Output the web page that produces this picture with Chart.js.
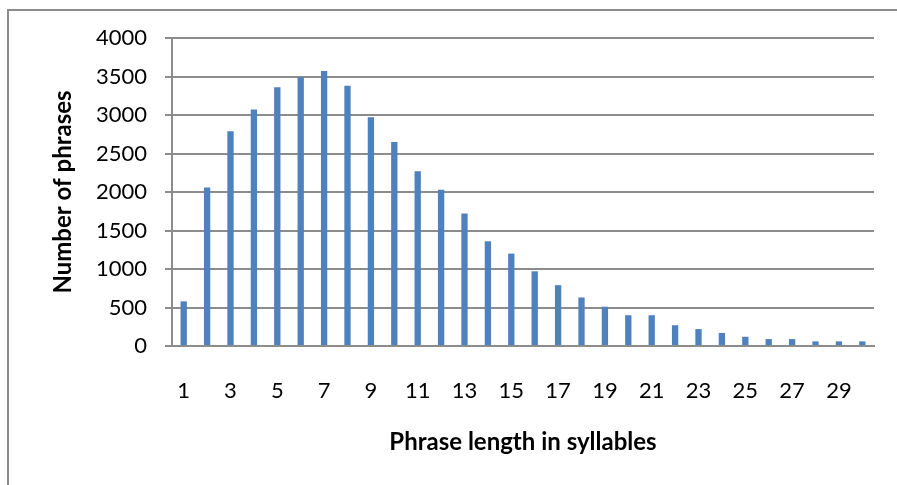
<!DOCTYPE html>
<html>
<head>
<meta charset="utf-8">
<script src="https://cdn.jsdelivr.net/npm/chart.js@4"></script>
<style>
body{margin:0;background:#fff;}
#frame{position:absolute;left:7px;top:9px;width:1000px;height:600px;border-top:2px solid #8c8c8c;border-left:2px solid #8c8c8c;}
#chart{position:absolute;left:0;top:0;}
</style>
</head>
<body>
<div id="frame"></div>
<canvas id="chart" width="897" height="485"></canvas>
<script>
const lengths = ["1","2","3","4","5","6","7","8","9","10","11","12","13","14","15","16","17","18","19","20","21","22","23","24","25","26","27","28","29","30"];

const counts = [580,2060,2790,3070,3360,3490,3570,3380,2970,2650,2270,2030,1720,1360,1200,970,790,630,510,400,400,270,220,170,120,90,90,60,60,60];

const yTicks = [0,500,1000,1500,2000,2500,3000,3500,4000];

const font = "Lato";

new Chart(

document.getElementById("chart"),

{

type:"bar",

data:{

labels:lengths,

datasets:[{

label:"Number of phrases",

data:counts,

backgroundColor:"#4f81bd",

barPercentage:0.27,

categoryPercentage:1

}]

},

options:{

responsive:false,

animation:false,

devicePixelRatio:1,

layout:{padding:{left:0,right:23,top:38,bottom:0}},

plugins:{legend:{display:false},tooltip:{enabled:false}},

scales:{

x:{

grid:{display:false},

border:{display:true,color:"#8c8c8c",width:2},

ticks:{

autoSkip:false,

maxRotation:0,

padding:24,

color:"#000",

font:{family:font,size:22},

callback:function(v,i){return i%2===0 ? lengths[i] : "";}

},

title:{

display:true,

text:"Phrase length in syllables",

color:"#000",

font:{family:font,size:24,weight:"bold"},

padding:{top:0,bottom:28}

},

afterFit:function(scale){scale.height=139;}

},

y:{

min:0,

max:4000,

afterBuildTicks:function(scale){scale.ticks=yTicks.map(v=>({value:v}));},

grid:{color:"#8c8c8c",lineWidth:2,tickLength:7},

border:{display:true,color:"#8c8c8c",width:2},

ticks:{

padding:18,

color:"#000",

font:{family:font,size:22},

callback:function(v){return String(v);}

},

title:{

display:true,

text:"Number of phrases",

color:"#000",

font:{family:font,size:24,weight:"bold"},

padding:{top:49,bottom:0}

},

afterFit:function(scale){scale.width=172;}

}

}

}

}

);
</script>
</body>
</html>
